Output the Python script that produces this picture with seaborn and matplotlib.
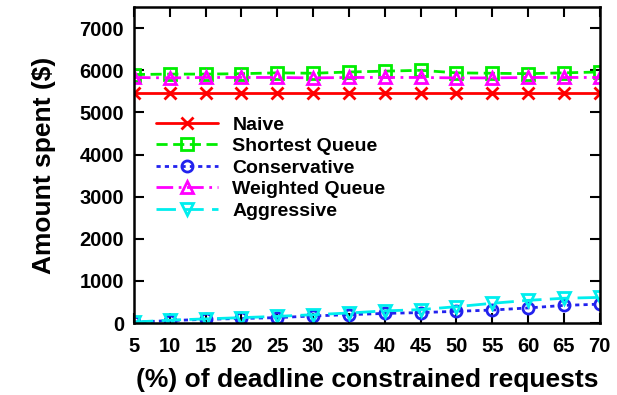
import pandas as pd
import matplotlib.pyplot as plt
import seaborn as sns

# percent of deadline constrained requests
pct = [5, 10, 15, 20, 25, 30, 35, 40, 45, 50, 55, 60, 65, 70]

naive = [5450] * 14
shortest_queue = [5900, 5910, 5910, 5920, 5940, 5930, 5960, 5980, 6000, 5940, 5930, 5920, 5940, 5960]
conservative = [20, 60, 90, 110, 130, 170, 200, 230, 250, 280, 310, 360, 420, 450]
weighted_queue = [5830, 5820, 5830, 5830, 5830, 5820, 5830, 5830, 5830, 5820, 5820, 5830, 5830, 5830]
aggressive = [25, 70, 100, 130, 160, 200, 240, 290, 320, 390, 470, 540, 590, 610]

series = ["Naive", "Shortest Queue", "Conservative", "Weighted Queue", "Aggressive"]
values = [naive, shortest_queue, conservative, weighted_queue, aggressive]
colors = ["#ff0000", "#00ee00", "#2222ee", "#ff00ff", "#00eeee"]
markers = ["x", "s", "o", "^", "v"]
dashes = ["-", (0, (4, 2)), (0, (1.5, 1.5)), (0, (6, 2, 1, 2)), (0, (7, 3))]

sns.set_style("ticks", {"text.color": "black", "axes.labelcolor": "black",
                        "xtick.color": "black", "ytick.color": "black"})
plt.rcParams["font.family"] = ["Liberation Sans", "DejaVu Sans"]
plt.rcParams["font.weight"] = "bold"

fig = plt.figure(figsize=(6.17, 3.95), dpi=100)
ax = fig.add_axes([0.217, 0.182, 0.755, 0.8])

for name, vals, c, m, ls in zip(series, values, colors, markers, dashes):
    df = pd.DataFrame({"pct": pct, "amount": vals})
    sns.lineplot(data=df, x="pct", y="amount", ax=ax, color=c, marker=m,
                 linestyle=ls, linewidth=2, markersize=8,
                 markerfacecolor="none", markeredgecolor=c, markeredgewidth=2,
                 label=name)

ax.set_xlim(5, 70)
ax.set_ylim(0, 7500)
ax.set_xticks(pct)
ax.set_yticks(range(0, 7001, 1000))
ax.tick_params(direction="in", length=7, width=1.5, labelsize=14.5,
               top=True, right=True, pad=7)
ax.tick_params(axis="x", pad=10)
for lab in ax.get_xticklabels() + ax.get_yticklabels():
    lab.set_fontweight("bold")
for s in ax.spines.values():
    s.set_linewidth(1.8)
    s.set_color("black")

ax.set_xlabel("(%) of deadline constrained requests", fontsize=19, fontweight="bold", labelpad=9)
ax.set_ylabel("Amount spent ($)", fontsize=19, fontweight="bold", labelpad=17)

leg = ax.legend(loc="upper left", bbox_to_anchor=(0.03, 0.68), frameon=False,
                fontsize=14, handlelength=3.2, labelspacing=0.2,
                handletextpad=0.75, borderaxespad=0.0)
for t in leg.get_texts():
    t.set_fontweight("bold")

fig.savefig("out.png", dpi=100)
